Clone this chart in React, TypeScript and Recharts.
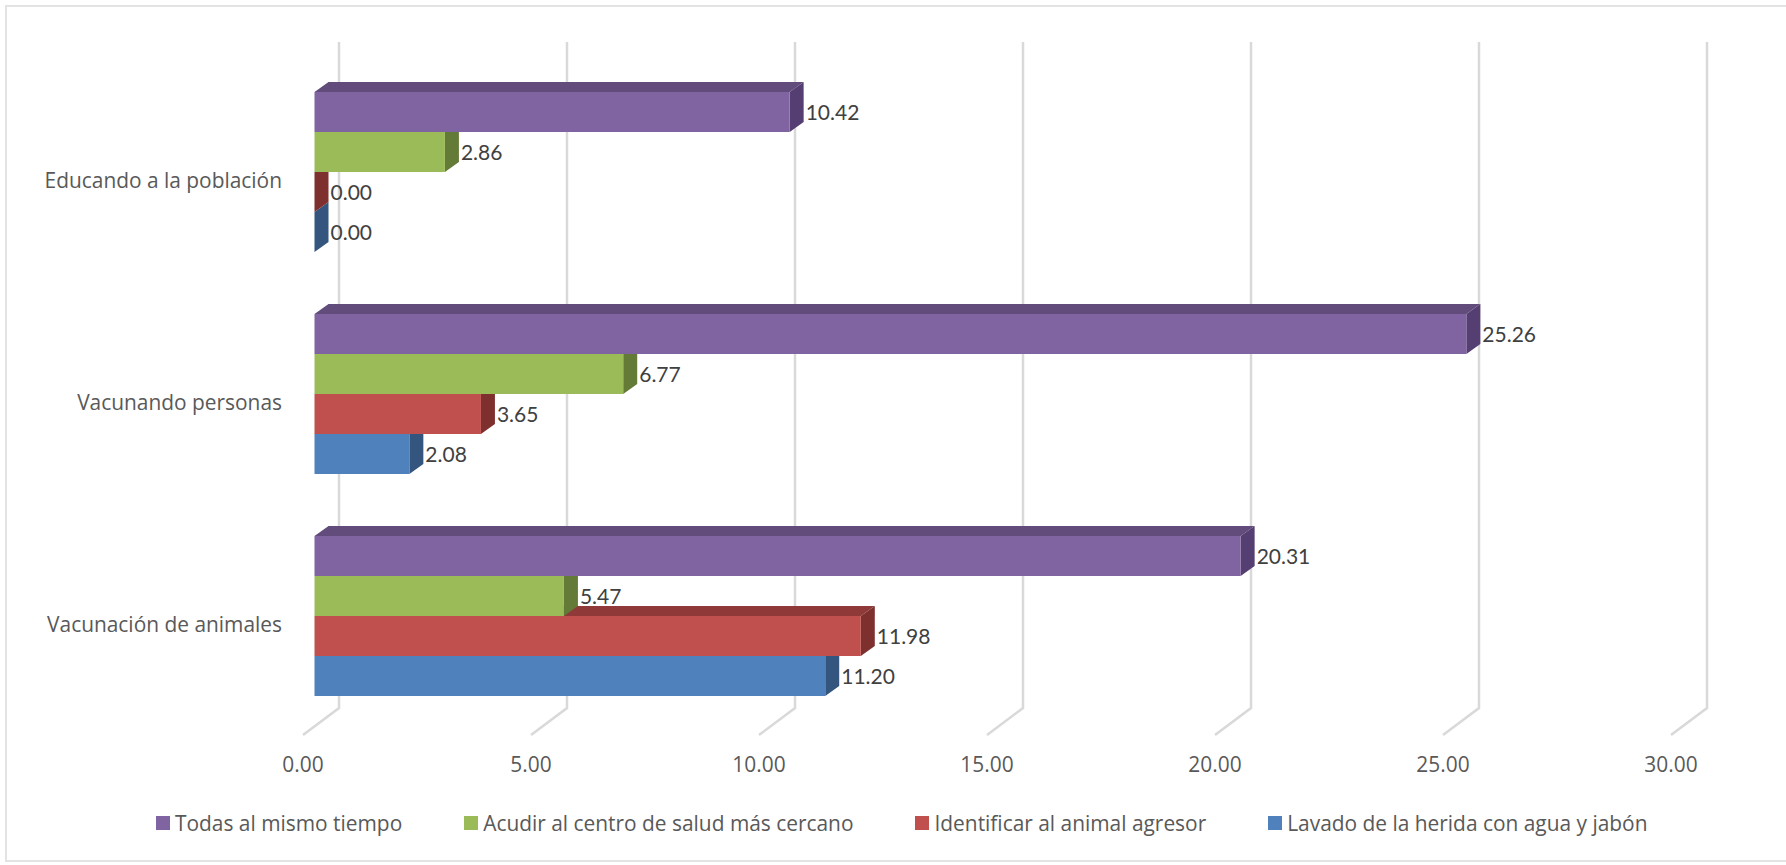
import { BarChart, Bar, XAxis, YAxis, CartesianGrid, Legend, LabelList } from 'recharts';

const categories = ['Educando a la población', 'Vacunando personas', 'Vacunación de animales'];
// series are declared bottom to top so the upper bars paint over the depth faces below them
const lavado = [0, 2.08, 11.2];
const identificar = [0, 3.65, 11.98];
const acudir = [2.86, 6.77, 5.47];
const todas = [10.42, 25.26, 20.31];
const xTicks = [0, 5, 10, 15, 20, 25, 30];

const data = categories.map((name, i) => ({
  name,
  lavado: lavado[i],
  identificar: identificar[i],
  acudir: acudir[i],
  todas: todas[i],
}));

const series = [
  { key: 'lavado', name: 'Lavado de la herida con agua y jabón', front: '#4F81BD', top: '#3E6595', side: '#34567E' },
  { key: 'identificar', name: 'Identificar al animal agresor', front: '#C0504D', top: '#8F3A38', side: '#7E302F' },
  { key: 'acudir', name: 'Acudir al centro de salud más cercano', front: '#9BBB59', top: '#7C9647', side: '#647A37' },
  { key: 'todas', name: 'Todas al mismo tiempo', front: '#8064A2', top: '#624C7C', side: '#553F72' },
];

const DEPTH_X = 14;
const DEPTH_Y = 10;
const FONT = '"Open Sans", sans-serif';

function barShape(k: number) {
  const s = series[k];
  return (props: any) => {
    const { x, y, width, height } = props;
    const top = y + (3 - 2 * k) * height;
    const right = x + width;
    const bottom = top + height;
    return (
      <g>
        <polygon
          points={`${x},${top} ${x + DEPTH_X},${top - DEPTH_Y} ${right + DEPTH_X},${top - DEPTH_Y} ${right},${top}`}
          fill={s.top}
        />
        <polygon
          points={`${right},${top} ${right + DEPTH_X},${top - DEPTH_Y} ${right + DEPTH_X},${bottom - DEPTH_Y} ${right},${bottom}`}
          fill={s.side}
        />
        <rect x={x} y={top} width={width} height={height} fill={s.front} />
      </g>
    );
  };
}

function barLabel(k: number) {
  return (props: any) => {
    const { x, y, width, height, value } = props;
    const top = y + (3 - 2 * k) * height;
    return (
      <text
        x={x + width + DEPTH_X + 2}
        y={top + height / 2 + 8}
        fontFamily="Lato, sans-serif"
        fontSize={21}
        fill="#404040"
      >
        {Number(value).toFixed(2)}
      </text>
    );
  };
}

function gridLine(props: any) {
  const { x1, y1, y2 } = props;
  return (
    <path
      key={props.key}
      d={`M${x1 + 24.5},${y1 - 19} L${x1 + 24.5},${y2 - 19} L${x1 - 11.5},${y2 + 8}`}
      fill="none"
      stroke="#D9D9D9"
      strokeWidth={2.5}
    />
  );
}

function xTick(props: any) {
  const { x, y, payload } = props;
  return (
    <text x={x - 11.5} y={y + 37} textAnchor="middle" fontFamily={FONT} fontSize={20.9} fill="#595959">
      {Number(payload.value).toFixed(2)}
    </text>
  );
}

function yTick(props: any) {
  const { y, payload } = props;
  return (
    <text x={282} y={y + 15.5} textAnchor="end" fontFamily={FONT} fontSize={20.9} fill="#595959">
      {payload.value}
    </text>
  );
}

function legendContent() {
  return (
    <div style={{ display: 'flex', gap: 62, fontFamily: FONT, fontSize: 20.9, color: '#595959', lineHeight: '24px' }}>
      {[...series].reverse().map((s) => (
        <div key={s.key} style={{ display: 'flex', alignItems: 'center', whiteSpace: 'nowrap' }}>
          <span style={{ width: 14, height: 14, background: s.front, marginRight: 5 }} />
          {s.name}
        </div>
      ))}
    </div>
  );
}

export default function App() {
  return (
    <div style={{ position: 'absolute', left: 0, top: 0, width: 1786, height: 865, background: '#fff', overflow: 'hidden' }}>
      <div
        style={{
          position: 'absolute',
          left: 5,
          top: 5,
          width: 1800,
          height: 857,
          boxSizing: 'border-box',
          border: '2px solid #E3E3E3',
        }}
      />
      <BarChart
        width={1786}
        height={865}
        layout="vertical"
        data={data}
        barGap={0}
        barSize={40}
        margin={{ top: 61, right: 103.5, bottom: 0, left: 0 }}
      >
        <CartesianGrid horizontal={false} vertical={gridLine} />
        <XAxis
          type="number"
          domain={[0, 30]}
          ticks={xTicks}
          tick={xTick}
          height={114}
          tickLine={false}
          axisLine={false}
          interval={0}
        />
        <YAxis
          type="category"
          dataKey="name"
          width={314.5}
          tick={yTick}
          tickLine={false}
          axisLine={false}
          interval={0}
        />
        {series.map((s, k) => (
          <Bar key={s.key} dataKey={s.key} name={s.name} fill={s.front} shape={barShape(k)} isAnimationActive={false}>
            <LabelList dataKey={s.key} content={barLabel(k)} />
          </Bar>
        ))}
        <Legend
          content={legendContent}
          height={40}
          wrapperStyle={{ left: 156, top: 811, width: 1500, height: 24 }}
        />
      </BarChart>
    </div>
  );
}
